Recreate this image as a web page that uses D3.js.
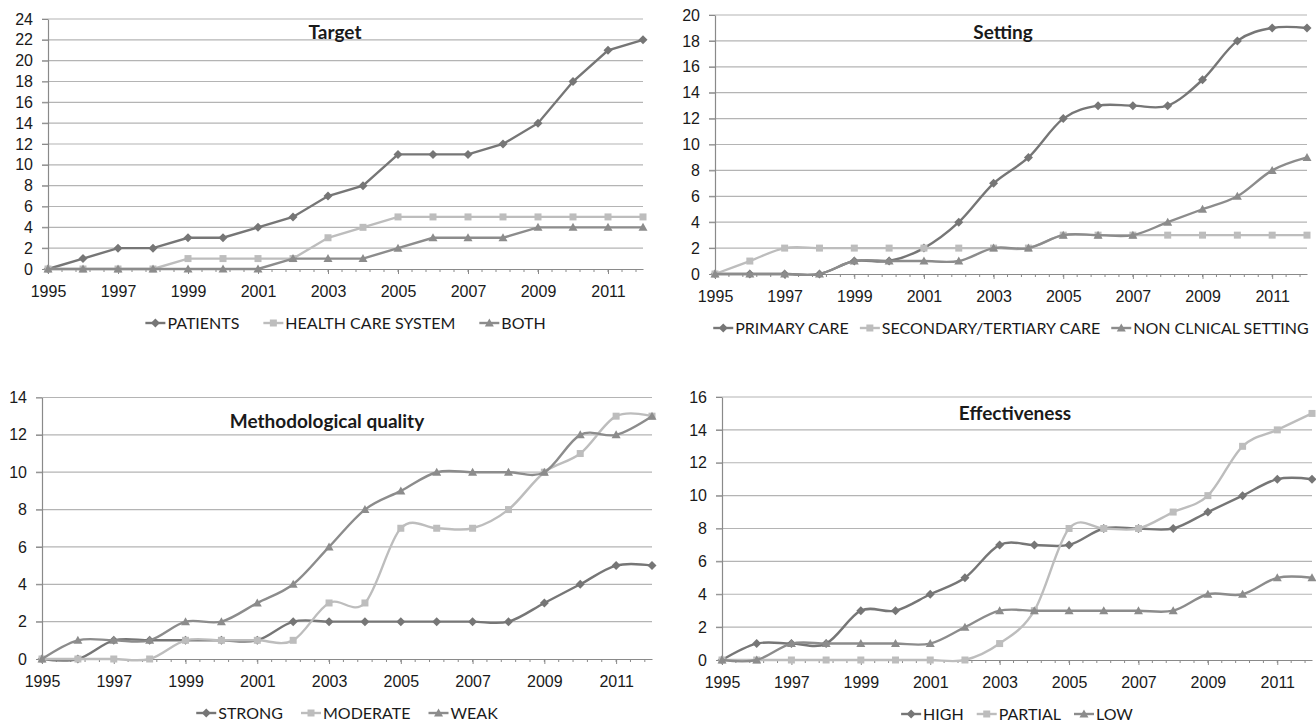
<!DOCTYPE html>
<html>
<head>
<meta charset="utf-8">
<script src="https://cdn.jsdelivr.net/npm/d3@7/dist/d3.min.js"></script>
<style>
  body { margin: 0; background: #fff; }
  svg { display: block; font-family: Lato, "Open Sans", sans-serif; }
</style>
</head>
<body>
<div id="chart"></div>
<script>
// years on the x axis
const years = [1995, 1996, 1997, 1998, 1999, 2000, 2001, 2002, 2003, 2004, 2005, 2006, 2007, 2008, 2009, 2010, 2011, 2012];
const yearLabels = [1995, 1997, 1999, 2001, 2003, 2005, 2007, 2009, 2011];

// Target
const targetPatients = [0, 1, 2, 2, 3, 3, 4, 5, 7, 8, 11, 11, 11, 12, 14, 18, 21, 22];
const targetHealthCare = [0, 0, 0, 0, 1, 1, 1, 1, 3, 4, 5, 5, 5, 5, 5, 5, 5, 5];
const targetBoth = [0, 0, 0, 0, 0, 0, 0, 1, 1, 1, 2, 3, 3, 3, 4, 4, 4, 4];

// Setting
const settingPrimary = [0, 0, 0, 0, 1, 1, 2, 4, 7, 9, 12, 13, 13, 13, 15, 18, 19, 19];
const settingSecondary = [0, 1, 2, 2, 2, 2, 2, 2, 2, 2, 3, 3, 3, 3, 3, 3, 3, 3];
const settingNonClinical = [0, 0, 0, 0, 1, 1, 1, 1, 2, 2, 3, 3, 3, 4, 5, 6, 8, 9];

// Methodological quality
const qualityStrong = [0, 0, 1, 1, 1, 1, 1, 2, 2, 2, 2, 2, 2, 2, 3, 4, 5, 5];
const qualityModerate = [0, 0, 0, 0, 1, 1, 1, 1, 3, 3, 7, 7, 7, 8, 10, 11, 13, 13];
const qualityWeak = [0, 1, 1, 1, 2, 2, 3, 4, 6, 8, 9, 10, 10, 10, 10, 12, 12, 13];

// Effectiveness
const effHigh = [0, 1, 1, 1, 3, 3, 4, 5, 7, 7, 7, 8, 8, 8, 9, 10, 11, 11];
const effPartial = [0, 0, 0, 0, 0, 0, 0, 0, 1, 3, 8, 8, 8, 9, 10, 13, 14, 15];
const effLow = [0, 0, 1, 1, 1, 1, 1, 2, 3, 3, 3, 3, 3, 3, 4, 4, 5, 5];

const colDark = "#767676", colLight = "#bdbdbd", colMid = "#8c8c8c";

const svg = d3.select("#chart")
    .append("svg")
    .attr("width", 1316)
    .attr("height", 726);

const panels = [
    {title: "Target", ymax: 24, smooth: false, legendGap: 24,
     box: {left: 48, right: 643, top: 19, bottom: 269}, titleX: 335, titleY: 39,
     series: [["PATIENTS", targetPatients, "diamond", colDark],
              ["HEALTH CARE SYSTEM", targetHealthCare, "square", colLight],
              ["BOTH", targetBoth, "triangle", colMid]]},
    {title: "Setting", ymax: 20, smooth: true, legendGap: 11,
     box: {left: 715, right: 1307, top: 15, bottom: 274}, titleX: 1003, titleY: 39,
     series: [["PRIMARY CARE", settingPrimary, "diamond", colDark],
              ["SECONDARY/TERTIARY CARE", settingSecondary, "square", colLight],
              ["NON CLNICAL SETTING", settingNonClinical, "triangle", colMid]]},
    {title: "Methodological quality", ymax: 14, smooth: true, legendGap: 18,
     box: {left: 42, right: 652, top: 397.5, bottom: 659}, titleX: 327, titleY: 428,
     series: [["STRONG", qualityStrong, "diamond", colDark],
              ["MODERATE", qualityModerate, "square", colLight],
              ["WEAK", qualityWeak, "triangle", colMid]]},
    {title: "Effectiveness", ymax: 16, smooth: true, legendGap: 13,
     box: {left: 722, right: 1312, top: 397, bottom: 660}, titleX: 1015, titleY: 420,
     series: [["HIGH", effHigh, "diamond", colDark],
              ["PARTIAL", effPartial, "square", colLight],
              ["LOW", effLow, "triangle", colMid]]}
];

function markerPath(shape) {
    if (shape === "diamond") return "M0,-4.5L4.5,0L0,4.5L-4.5,0Z";
    if (shape === "square") return "M-3.5,-3.5H3.5V3.5H-3.5Z";
    return "M0,-4.5L4.5,3.5H-4.5Z";
}

panels.forEach(function (p) {
    const b = p.box;
    const g = svg.append("g");

    const x = d3.scaleLinear().domain([1995, 2012]).range([b.left, b.right]);
    const y = d3.scaleLinear().domain([0, p.ymax]).range([b.bottom, b.top]);
    const yTicks = d3.range(0, p.ymax + 1, 2);

    // gridlines
    g.selectAll(".grid")
        .data(yTicks.slice(1))
        .enter().append("line")
        .attr("x1", b.left - 6)
        .attr("x2", b.right)
        .attr("y1", d => y(d))
        .attr("y2", d => y(d))
        .attr("stroke", "#b4b4b4")
        .attr("stroke-width", 1.2);

    // y axis
    const yAxis = g.append("g")
        .attr("transform", `translate(${b.left},0)`)
        .call(d3.axisLeft(y).tickValues(yTicks).tickSize(6).tickPadding(9).tickSizeOuter(0));
    yAxis.select(".domain").attr("stroke", "#8a8a8a").attr("stroke-width", 1.2);
    yAxis.selectAll(".tick line").attr("stroke", "#8a8a8a");
    yAxis.selectAll("text").attr("fill", "#1a1a1a").style("font-size", "16px");

    // x axis: major every 2 years, minor every 0.4
    const minor = d3.range(1995, 2012.001, 0.4);
    g.selectAll(".minor")
        .data(minor)
        .enter().append("line")
        .attr("x1", d => x(d)).attr("x2", d => x(d))
        .attr("y1", b.bottom).attr("y2", b.bottom + 3)
        .attr("stroke", "#8a8a8a");

    const xAxis = g.append("g")
        .attr("transform", `translate(0,${b.bottom})`)
        .call(d3.axisBottom(x).tickValues(yearLabels).tickFormat(d3.format("d"))
            .tickSize(5).tickPadding(12).tickSizeOuter(0));
    xAxis.select(".domain").attr("stroke", "#8a8a8a").attr("stroke-width", 1.2);
    xAxis.selectAll(".tick line").attr("stroke", "#8a8a8a");
    xAxis.selectAll("text").attr("fill", "#1a1a1a").style("font-size", "16px");

    // series
    const line = d3.line()
        .x((d, i) => x(years[i]))
        .y(d => y(d))
        .curve(p.smooth ? d3.curveCatmullRom.alpha(0) : d3.curveLinear);

    p.series.forEach(function (s) {
        g.append("path")
            .datum(s[1])
            .attr("d", line)
            .attr("fill", "none")
            .attr("stroke", s[3])
            .attr("stroke-width", 2.4);
        g.selectAll(null)
            .data(s[1])
            .enter().append("path")
            .attr("d", markerPath(s[2]))
            .attr("transform", (d, i) => `translate(${x(years[i])},${y(d)})`)
            .attr("fill", s[3]);
    });

    // title
    g.append("text")
        .attr("x", p.titleX)
        .attr("y", p.titleY)
        .attr("text-anchor", "middle")
        .style("font-size", "19px")
        .style("font-weight", "bold")
        .attr("fill", "#1a1a1a")
        .text(p.title);

    // legend, centred under the plot
    const legend = g.append("g");
    let offset = 0;
    p.series.forEach(function (s, i) {
        const item = legend.append("g").attr("transform", `translate(${offset},0)`);
        item.append("line")
            .attr("x1", 0).attr("x2", 20)
            .attr("stroke", s[3]).attr("stroke-width", 2.4);
        item.append("path")
            .attr("d", markerPath(s[2]))
            .attr("transform", "translate(10,0)")
            .attr("fill", s[3]);
        const t = item.append("text")
            .attr("x", 22)
            .attr("dy", "0.36em")
            .style("font-size", "16px")
            .attr("fill", "#1a1a1a")
            .text(s[0]);
        offset += 22 + t.node().getComputedTextLength() + p.legendGap;
    });
    const legendWidth = offset - p.legendGap;
    legend.attr("transform", `translate(${(b.left + b.right) / 2 - legendWidth / 2},${b.bottom + 54})`);
});
</script>
</body>
</html>
